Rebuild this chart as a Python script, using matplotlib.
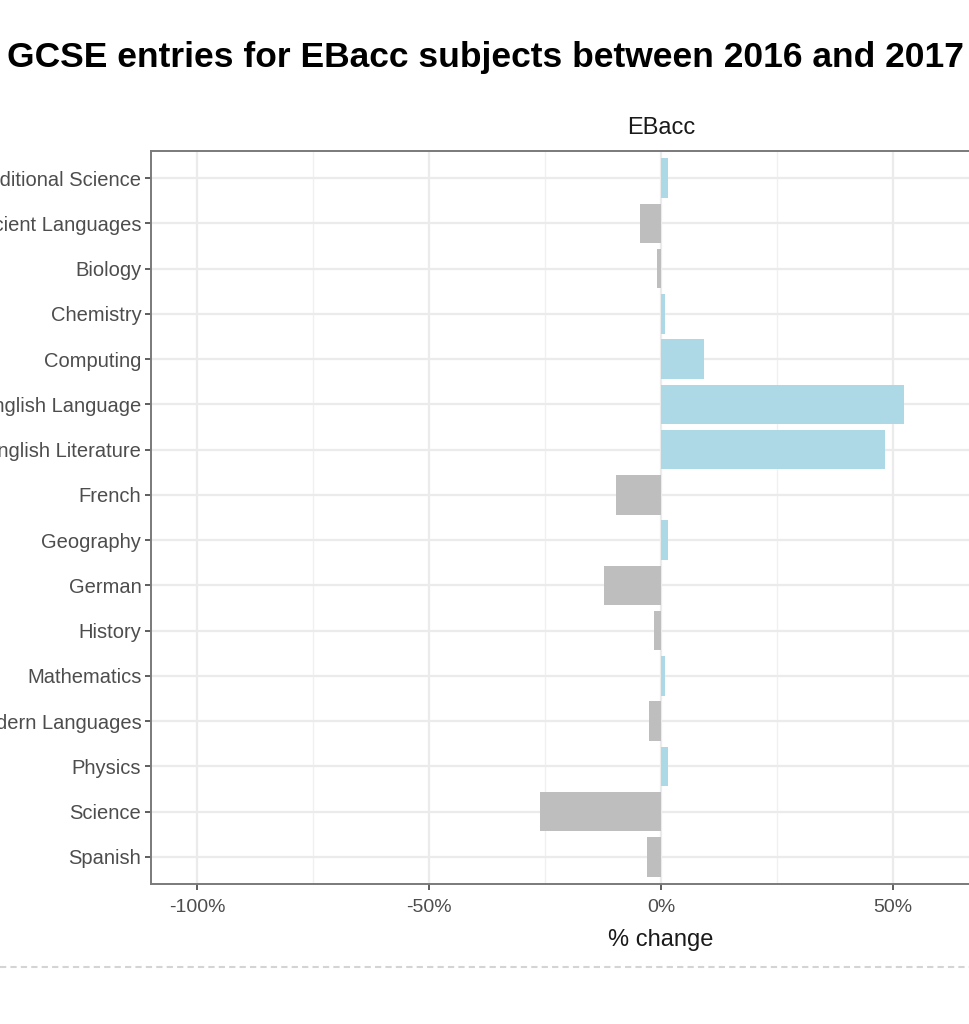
import matplotlib
matplotlib.use("Agg")
import matplotlib.pyplot as plt
from matplotlib.lines import Line2D

plt.rcParams['font.family'] = ['Liberation Sans', 'DejaVu Sans']

# subjects top to bottom and % change 2016 -> 2017
subjects = ["Additional Science", "Ancient Languages", "Biology", "Chemistry",
            "Computing", "English Language", "English Literature", "French",
            "Geography", "German", "History", "Mathematics",
            "Modern Languages", "Physics", "Science", "Spanish"]
pct_change = [1.5, -4.6, -0.8, 0.9, 9.2, 52.5, 48.4, -9.8,
              1.6, -12.4, -1.5, 0.9, -2.5, 1.6, -26.2, -3.0]
x_ticks = [-100, -50, 0, 50, 100]
x_minor = [-75, -25, 25, 75]

W, H = 970, 1024
fig = plt.figure(figsize=(W / 100, H / 100), dpi=100)

# panel runs off the right edge of the picture, like the cropped original
left, right, top, bottom = 151, 1171, 151, 884
ax = fig.add_axes([left / W, 1 - bottom / H, (right - left) / W, (bottom - top) / H])

ypos = list(range(len(subjects)))
colors = ['#ADD8E6' if v > 0 else '#BEBEBE' for v in pct_change]
ax.barh(ypos, pct_change, height=0.87, color=colors, zorder=3)

ax.set_xlim(-110, 110)
ax.set_ylim(len(subjects) - 0.4, -0.6)
ax.set_yticks(ypos)
ax.set_yticklabels(subjects)
ax.set_xticks(x_ticks)
ax.set_xticklabels([f"{t}%" for t in x_ticks])
ax.set_xticks(x_minor, minor=True)

ax.grid(True, which='major', color='#ebebeb', lw=1.6, zorder=0)
ax.grid(True, which='minor', axis='x', color='#f0f0f0', lw=1.0, zorder=0)
ax.set_axisbelow(True)

for s in ax.spines.values():
    s.set_color('#7a7a7a')
    s.set_linewidth(1.4)

ax.tick_params(axis='y', which='major', length=4, width=1.1, color='#333333',
               labelsize=14.5, labelcolor='#4d4d4d', pad=3)
ax.tick_params(axis='x', which='major', length=4, width=1.1, color='#333333',
               labelsize=14, labelcolor='#4d4d4d', pad=7)
ax.tick_params(axis='x', which='minor', length=0)

ax.set_xlabel("% change", fontsize=17, color='#1a1a1a', labelpad=9)
ax.set_title("EBacc", fontsize=17, color='#1a1a1a', pad=12)

fig.text(485 / W, 1 - 57 / H, "GCSE entries for EBacc subjects between 2016 and 2017",
         ha='center', va='center', fontsize=25.5, fontweight='bold', color='black')

fig.add_artist(Line2D([0, 1], [1 - 967 / H, 1 - 967 / H], transform=fig.transFigure,
                      color='#d4d4d4', lw=1.5, ls=(0, (3, 2))))

fig.savefig("out.png", dpi=100)
